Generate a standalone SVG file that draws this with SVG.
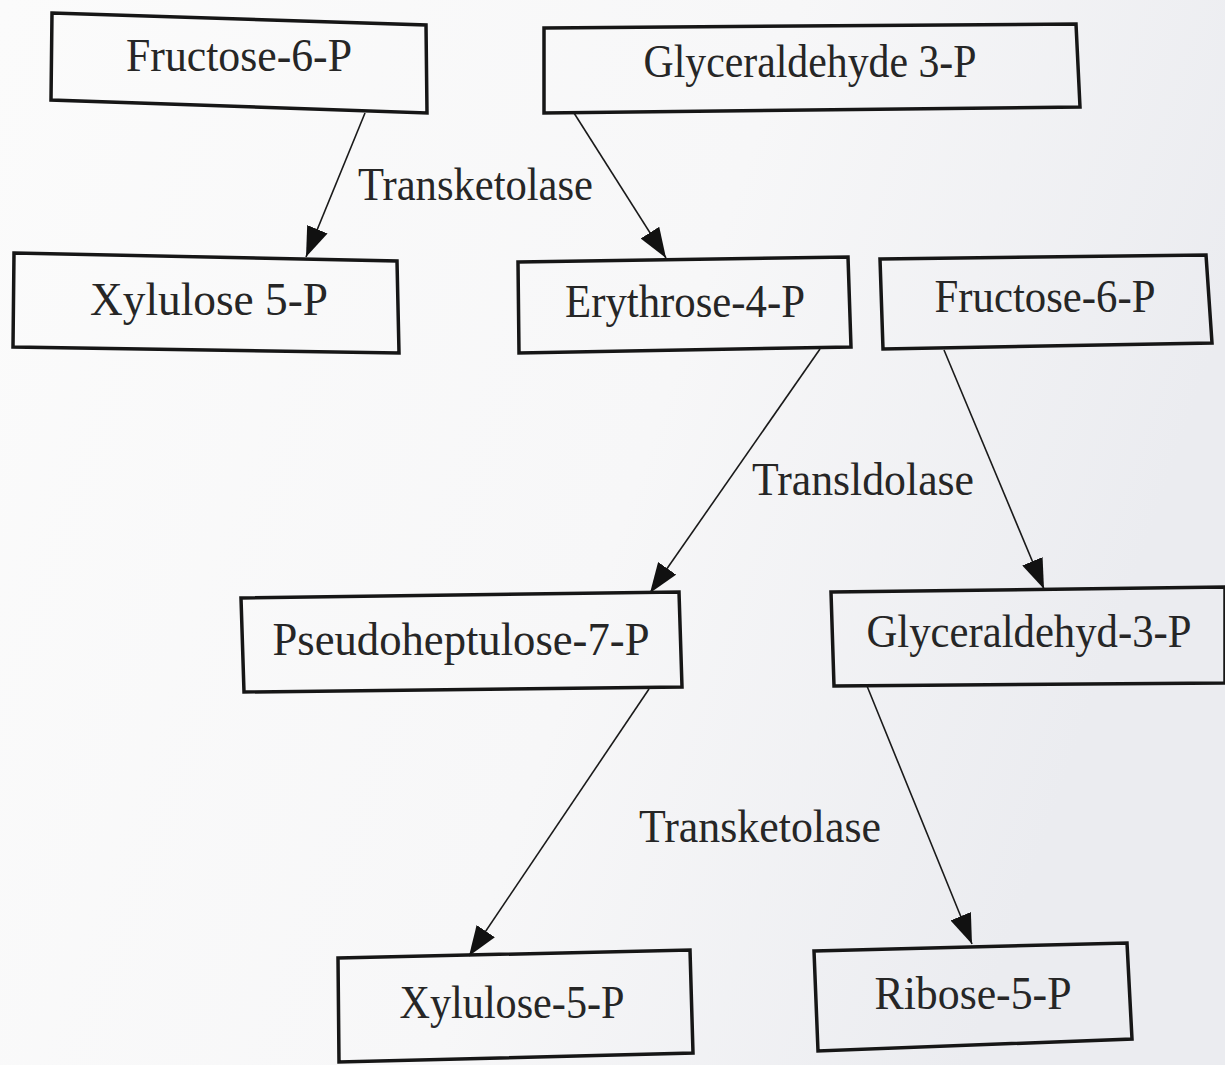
<svg xmlns="http://www.w3.org/2000/svg" width="1225" height="1065" viewBox="0 0 1225 1065">
<defs>
<linearGradient id="bg" x1="0" y1="0" x2="1" y2="0.3">
<stop offset="0" stop-color="#fbfbfb"/>
<stop offset="0.6" stop-color="#f7f7f8"/>
<stop offset="1" stop-color="#ebecf0"/>
</linearGradient>
<marker id="ah" viewBox="0 0 30 22" refX="30" refY="11" markerWidth="30" markerHeight="22" markerUnits="userSpaceOnUse" orient="auto">
<path d="M0,0 L30,11 L0,22 z" fill="#111"/>
</marker>
<style>
.box{fill:none;stroke:#161616;stroke-width:3.5;stroke-linejoin:miter}
.t{font-family:"Liberation Serif","Times New Roman",serif;font-size:46px;fill:#262626;text-anchor:middle}
.lbl{font-family:"Liberation Serif","Times New Roman",serif;font-size:46px;fill:#262626}
.c{stroke:#1a1a1a;stroke-width:1.6;fill:none;marker-end:url(#ah)}
</style>
</defs>
<rect width="1225" height="1065" fill="url(#bg)"/>
<g id="connectors">
<line class="c" x1="365" y1="113" x2="306" y2="257"/>
<line class="c" x1="574" y1="113" x2="666" y2="258"/>
<line class="c" x1="820" y1="349" x2="650" y2="593"/>
<line class="c" x1="944" y1="350" x2="1044" y2="589"/>
<line class="c" x1="649" y1="689" x2="469" y2="956"/>
<line class="c" x1="867" y1="686" x2="972" y2="944"/>
<text class="lbl" x="358" y="200" textLength="235" lengthAdjust="spacingAndGlyphs">Transketolase</text>
<text class="lbl" x="752" y="495" textLength="222" lengthAdjust="spacingAndGlyphs">Transldolase</text>
<text class="lbl" x="639" y="842" textLength="242" lengthAdjust="spacingAndGlyphs">Transketolase</text>
</g>
<g id="n1">
<polygon class="box" points="52,13 426,25 427,113 51,100"/>
<text class="t" x="239" y="71" textLength="226" lengthAdjust="spacingAndGlyphs">Fructose-6-P</text>
</g>
<g id="n2">
<polygon class="box" points="544,28 1076,24 1080,107 544,113"/>
<text class="t" x="810" y="77" textLength="333" lengthAdjust="spacingAndGlyphs">Glyceraldehyde 3-P</text>
</g>
<g id="n3">
<polygon class="box" points="14,253 397,261 399,353 13,347"/>
<text class="t" x="209" y="315" textLength="238" lengthAdjust="spacingAndGlyphs">Xylulose 5-P</text>
</g>
<g id="n4">
<polygon class="box" points="518,262 848,257 851,347 519,353"/>
<text class="t" x="685" y="317" textLength="240" lengthAdjust="spacingAndGlyphs">Erythrose-4-P</text>
</g>
<g id="n5">
<polygon class="box" points="880,259 1206,255 1212,343 883,349"/>
<text class="t" x="1045" y="312" textLength="221" lengthAdjust="spacingAndGlyphs">Fructose-6-P</text>
</g>
<g id="n6">
<polygon class="box" points="241,598 679,592 682,687 244,692"/>
<text class="t" x="461" y="655" textLength="377" lengthAdjust="spacingAndGlyphs">Pseudoheptulose-7-P</text>
</g>
<g id="n7">
<polygon class="box" points="831,592 1225,587 1225,683 834,686"/>
<text class="t" x="1029" y="647" textLength="325" lengthAdjust="spacingAndGlyphs">Glyceraldehyd-3-P</text>
</g>
<g id="n8">
<polygon class="box" points="338,958 690,950 693,1053 339,1062"/>
<text class="t" x="512" y="1018" textLength="225" lengthAdjust="spacingAndGlyphs">Xylulose-5-P</text>
</g>
<g id="n9">
<polygon class="box" points="814,951 1127,943 1132,1039 818,1051"/>
<text class="t" x="973" y="1009" textLength="197" lengthAdjust="spacingAndGlyphs">Ribose-5-P</text>
</g>
</svg>
